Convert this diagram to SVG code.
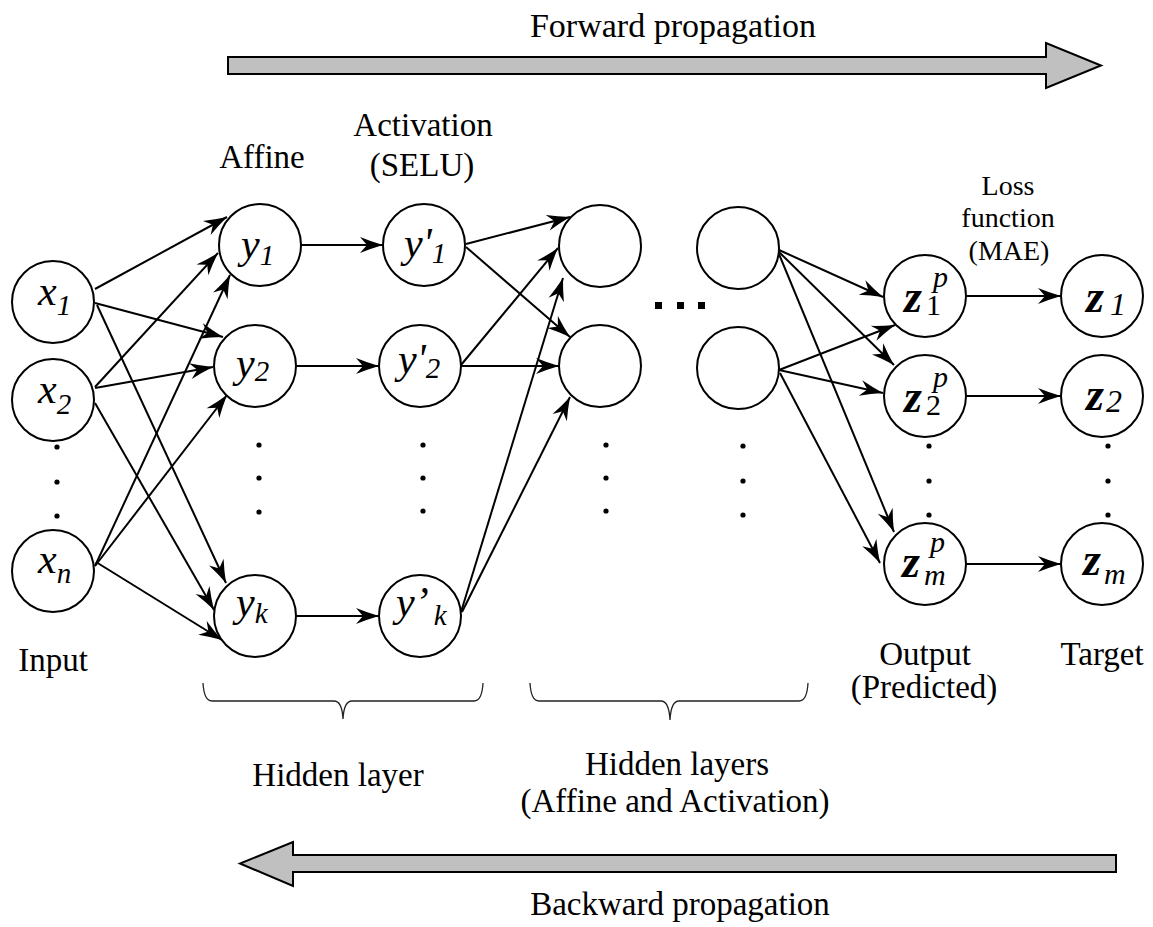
<svg xmlns="http://www.w3.org/2000/svg" width="1153" height="927" viewBox="0 0 1153 927">
<style>
.n{fill:#fff;stroke:#000;stroke-width:2}
.v{font-family:"Liberation Serif",serif;font-style:italic;font-size:42px;fill:#000}
.s{font-size:29px}
.z{font-family:"Liberation Serif",serif;font-style:italic;font-weight:bold;font-size:46px;fill:#000}
.sp{font-family:"Liberation Serif",serif;font-style:italic;font-weight:normal;font-size:30px}
.su{font-family:"Liberation Serif",serif;font-style:normal;font-weight:normal;font-size:30px}
.t{font-family:"Liberation Serif",serif;font-size:33px;fill:#000;text-anchor:middle}
.ts{font-family:"Liberation Serif",serif;font-size:28px;fill:#000;text-anchor:middle}
.c line{stroke:#000;stroke-width:2;marker-end:url(#ah)}
.big{fill:#c0c0c0;stroke:#000;stroke-width:2}
.brace{fill:none;stroke:#222;stroke-width:1.3}
.dot{fill:#000}
</style>
<defs>
<marker id="ah" viewBox="-24 -9 26 18" refX="0" refY="0" markerWidth="26" markerHeight="18" markerUnits="userSpaceOnUse" orient="auto">
<path d="M0,0 Q-12,-3.5 -23,-8 L-16,0 L-23,8 Q-12,3.5 0,0 Z" fill="#000"/>
</marker>
</defs>

<g id="forward-arrow">
<polygon class="big" points="228,57 1046,57 1046,43 1101,65.5 1046,88 1046,74 228,74"/>
<text class="t" x="673" y="37" style="font-size:34px">Forward propagation</text>
</g>
<g id="backward-arrow">
<polygon class="big" points="1116,855 293,855 293,842 240,863.5 293,886 293,872 1116,872"/>
<text class="t" x="680" y="915">Backward propagation</text>
</g>

<g id="labels">
<text class="t" x="262" y="168">Affine</text>
<text class="t" x="423" y="136">Activation</text>
<text class="t" x="422" y="176">(SELU)</text>
<text class="ts" x="1008" y="195">Loss</text>
<text class="ts" x="1008" y="227">function</text>
<text class="ts" x="1009" y="260">(MAE)</text>
<text class="t" x="53" y="671">Input</text>
<text class="t" x="925" y="665">Output</text>
<text class="t" x="924" y="698">(Predicted)</text>
<text class="t" x="1102" y="665">Target</text>
<text class="t" x="338" y="786">Hidden layer</text>
<text class="t" x="677" y="775">Hidden layers</text>
<text class="t" x="675" y="812">(Affine and Activation)</text>
</g>

<g id="braces">
<path class="brace" d="M203,683 Q204,701 212,701 L334,701 Q342,701 343,719 Q344,701 352,701 L474,701 Q482,701 483,683"/>
<path class="brace" d="M530,683 Q531,701 539,701 L661,701 Q669,701 670,720 Q671,701 679,701 L799,701 Q807,701 808,683"/>
</g>

<g id="ellipses">
<circle class="dot" cx="57" cy="447" r="2.6"/><circle class="dot" cx="57" cy="482" r="2.6"/><circle class="dot" cx="57" cy="516" r="2.6"/>
<circle class="dot" cx="259" cy="445" r="2.6"/><circle class="dot" cx="259" cy="478" r="2.6"/><circle class="dot" cx="259" cy="512" r="2.6"/>
<circle class="dot" cx="423" cy="445" r="2.6"/><circle class="dot" cx="423" cy="478" r="2.6"/><circle class="dot" cx="423" cy="511" r="2.6"/>
<circle class="dot" cx="606" cy="445" r="2.6"/><circle class="dot" cx="606" cy="478" r="2.6"/><circle class="dot" cx="606" cy="511" r="2.6"/>
<circle class="dot" cx="743" cy="446" r="2.6"/><circle class="dot" cx="743" cy="481" r="2.6"/><circle class="dot" cx="743" cy="515" r="2.6"/>
<circle class="dot" cx="929" cy="446" r="2.6"/><circle class="dot" cx="929" cy="481" r="2.6"/><circle class="dot" cx="929" cy="515" r="2.6"/>
<circle class="dot" cx="1108" cy="446" r="2.6"/><circle class="dot" cx="1108" cy="481" r="2.6"/><circle class="dot" cx="1108" cy="515" r="2.6"/>
<rect x="655" y="302" width="7" height="7"/><rect x="677" y="302" width="7" height="7"/><rect x="698" y="302" width="7" height="7"/>
</g>

<g id="node-x1"><circle class="n" cx="53" cy="302" r="41"/><text class="v" x="38" y="305">x<tspan class="s" dy="10">1</tspan></text></g>
<g id="node-x2"><circle class="n" cx="53" cy="400" r="41"/><text class="v" x="38" y="403">x<tspan class="s" dy="11">2</tspan></text></g>
<g id="node-xn"><circle class="n" cx="53" cy="571" r="41"/><text class="v" x="38" y="573">x<tspan class="s" dy="10">n</tspan></text></g>

<g id="node-y1"><circle class="n" cx="260" cy="245" r="41"/><text class="v" x="241" y="258">y<tspan class="s" dy="7">1</tspan></text></g>
<g id="node-y2"><circle class="n" cx="255" cy="366" r="41"/><text class="v" x="236" y="377">y<tspan class="s" dy="4">2</tspan></text></g>
<g id="node-yk"><circle class="n" cx="255" cy="616" r="41"/><text class="v" x="236" y="616">y<tspan class="s" dy="7">k</tspan></text></g>

<g id="node-y1p"><circle class="n" cx="424" cy="245" r="41"/><text class="v" x="404" y="257">y'<tspan class="s" dy="6">1</tspan></text></g>
<g id="node-y2p"><circle class="n" cx="420" cy="366" r="41"/><text class="v" x="398" y="373">y'<tspan class="s" dy="5">2</tspan></text></g>
<g id="node-ykp"><circle class="n" cx="420" cy="616" r="41"/><text class="v" x="396" y="616">y’<tspan class="s" dx="5" dy="9">k</tspan></text></g>

<g id="node-h1a"><circle class="n" cx="600" cy="246" r="41"/></g>
<g id="node-h1b"><circle class="n" cx="600" cy="366" r="41"/></g>
<g id="node-hna"><circle class="n" cx="738" cy="248" r="41"/></g>
<g id="node-hnb"><circle class="n" cx="738" cy="368" r="41"/></g>

<g id="node-z1p"><circle class="n" cx="925" cy="296" r="41"/><text class="z" x="904" y="312">z<tspan class="sp" x="933" y="287">p</tspan><tspan class="su" x="926" y="315">1</tspan></text></g>
<g id="node-z2p"><circle class="n" cx="925" cy="396" r="41"/><text class="z" x="904" y="412">z<tspan class="sp" x="933" y="387">p</tspan><tspan class="su" x="926" y="415">2</tspan></text></g>
<g id="node-zmp"><circle class="n" cx="925" cy="564" r="41"/><text class="z" x="902" y="577">z<tspan class="sp" x="930" y="552">p</tspan><tspan class="sp" x="924" y="585">m</tspan></text></g>

<g id="node-z1"><circle class="n" cx="1102" cy="296" r="41"/><text class="z" x="1086" y="312">z<tspan class="sp" style="font-size:32px" x="1110" y="315">1</tspan></text></g>
<g id="node-z2"><circle class="n" cx="1102" cy="396" r="41"/><text class="z" x="1086" y="410">z<tspan class="sp" style="font-size:32px" x="1106" y="412">2</tspan></text></g>
<g id="node-zm"><circle class="n" cx="1102" cy="564" r="41"/><text class="z" x="1083" y="575">z<tspan class="sp" x="1104" y="584">m</tspan></text></g>

<g id="connectors" class="c">
<line x1="95" y1="289" x2="227" y2="217"/>
<line x1="95" y1="303" x2="223" y2="337"/>
<line x1="97" y1="305" x2="226" y2="583"/>
<line x1="95" y1="387" x2="218" y2="253"/>
<line x1="95" y1="388" x2="213" y2="367"/>
<line x1="95" y1="403" x2="214" y2="610"/>
<line x1="95" y1="566" x2="230" y2="275"/>
<line x1="95" y1="566" x2="227" y2="395"/>
<line x1="96" y1="562" x2="222" y2="640"/>
<line x1="302" y1="245" x2="383" y2="245"/>
<line x1="296" y1="366" x2="379" y2="366"/>
<line x1="296" y1="616" x2="379" y2="616"/>
<line x1="466" y1="244" x2="570" y2="217"/>
<line x1="466" y1="247" x2="570" y2="337"/>
<line x1="461" y1="365" x2="558" y2="248"/>
<line x1="461" y1="366" x2="559" y2="366"/>
<line x1="461" y1="612" x2="563" y2="278"/>
<line x1="462" y1="612" x2="570" y2="397"/>
<line x1="779" y1="250" x2="883" y2="297"/>
<line x1="779" y1="252" x2="894" y2="365"/>
<line x1="779" y1="254" x2="894" y2="532"/>
<line x1="779" y1="370" x2="895" y2="325"/>
<line x1="779" y1="370" x2="883" y2="393"/>
<line x1="780" y1="373" x2="880" y2="563"/>
<line x1="966" y1="296" x2="1061" y2="296"/>
<line x1="966" y1="396" x2="1061" y2="396"/>
<line x1="966" y1="564" x2="1061" y2="564"/>
</g>
</svg>
